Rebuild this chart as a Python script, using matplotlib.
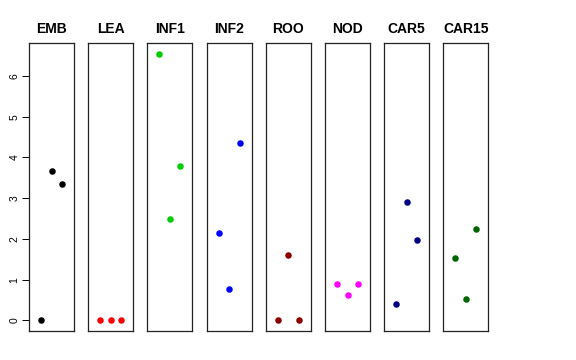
import matplotlib
matplotlib.use("Agg")
import matplotlib.pyplot as plt

tissues = ["EMB", "LEA", "INF1", "INF2", "ROO", "NOD", "CAR5", "CAR15"]
colors = ["black", "red", "#00CD00", "blue", "#8B0000", "magenta", "#000080", "#006400"]
values = [
    [0.0, 3.68, 3.35],
    [0.0, 0.02, 0.0],
    [6.55, 2.50, 3.78],
    [2.14, 0.77, 4.36],
    [0.0, 1.61, 0.0],
    [0.89, 0.61, 0.90],
    [0.40, 2.90, 1.97],
    [1.52, 0.52, 2.24],
]
reps = [1, 2, 3]
yticks = [0, 1, 2, 3, 4, 5, 6]

plt.rcParams["font.family"] = ["Liberation Sans", "DejaVu Sans"]

W, H = 576, 360
fig = plt.figure(figsize=(W / 100, H / 100), dpi=100)

ymax = max(max(v) for v in values)
ypad = 0.04 * ymax
for i, (name, col, vals) in enumerate(zip(tissues, colors, values)):
    left = 29 + i * 59.2
    ax = fig.add_axes([left / W, 29 / H, 45 / W, 288 / H])
    ax.scatter(reps, vals, s=22, color=col, linewidths=0, zorder=3)
    ax.set_xlim(0 - 0.16, 4 + 0.16)
    ax.set_ylim(-ypad, ymax + ypad)
    ax.set_xticks([])
    ax.set_title(name, fontsize=10, fontweight="bold", pad=7)
    for s in ax.spines.values():
        s.set_linewidth(0.9)
        s.set_color("#222222")
    if i == 0:
        ax.set_yticks(yticks)
        ax.set_yticklabels([str(t) for t in yticks], rotation=90, va="center", fontsize=7.5)
        ax.tick_params(axis="y", length=5, width=0.7, pad=2)
    else:
        ax.set_yticks([])

fig.savefig("out.png", dpi=100)
